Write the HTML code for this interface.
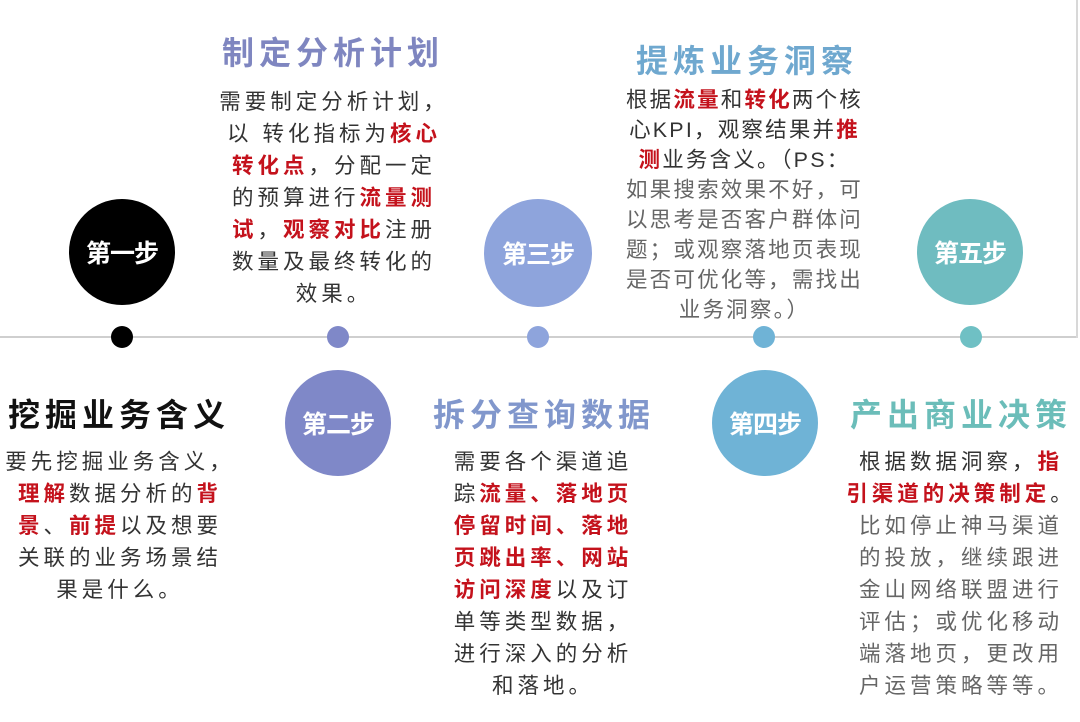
<!DOCTYPE html>
<html><head><meta charset="utf-8"><style>
html,body{margin:0;padding:0;background:#fff;}
body{width:1080px;height:722px;position:relative;overflow:hidden;font-family:"Liberation Sans","Noto Sans CJK SC",sans-serif;}
.a{position:absolute;}
.c{position:absolute;border-radius:50%;color:#fff;font-weight:bold;font-size:25px;display:flex;align-items:center;justify-content:center;letter-spacing:-1px;}
.d{position:absolute;width:22px;height:22px;border-radius:50%;}
.t{position:absolute;font-weight:bold;font-size:32px;letter-spacing:5px;white-space:nowrap;}
.b{position:absolute;font-size:21.5px;letter-spacing:4px;color:#333;text-align:center;white-space:nowrap;}
.b div{height:32px;line-height:32px;}
.r{color:#c4121c;font-weight:bold;}
.g{color:#666;}
</style></head><body>
<div class="a" style="left:0;top:336px;width:1078px;height:2px;background:#cfcfcf"></div>
<div class="a" style="left:1076px;top:0;width:2px;height:338px;background:#d8d8d8"></div>

<div class="d" style="left:111px;top:326px;background:#000"></div>
<div class="d" style="left:327px;top:326px;background:#7f88c8"></div>
<div class="d" style="left:527px;top:326px;background:#8ea4dc"></div>
<div class="d" style="left:753px;top:326px;background:#6fb3d6"></div>
<div class="d" style="left:960px;top:326px;background:#6fc0c4"></div>

<div class="c" style="left:69px;top:199px;width:106px;height:106px;background:#000">第一步</div>
<div class="c" style="left:484px;top:199px;width:108px;height:108px;background:#8ea4dc">第三步</div>
<div class="c" style="left:917px;top:199px;width:106px;height:106px;background:#6fbcc0">第五步</div>
<div class="c" style="left:285px;top:370px;width:106px;height:106px;background:#7f88c8">第二步</div>
<div class="c" style="left:712px;top:370px;width:106px;height:106px;background:#6fb3d6">第四步</div>

<div class="t" style="left:222px;top:28px;color:#7f86c0">制定分析计划</div>
<div class="t" style="left:636px;top:36px;color:#6fa8cf">提炼业务洞察</div>
<div class="t" style="left:8px;top:390px;color:#111">挖掘业务含义</div>
<div class="t" style="left:433px;top:390px;color:#8197cc">拆分查询数据</div>
<div class="t" style="left:850px;top:390px;color:#6bbdb9">产出商业决策</div>

<div class="b" style="left:210px;top:86px;width:248px">
<div>需要制定分析计划，</div>
<div>以 转化指标为<span class="r">核心</span></div>
<div><span class="r">转化点</span>，分配一定</div>
<div>的预算进行<span class="r">流量测</span></div>
<div><span class="r">试</span>，<span class="r">观察对比</span>注册</div>
<div>数量及最终转化的</div>
<div>效果。</div>
</div>

<div class="b" style="left:622px;top:85px;width:245px;letter-spacing:2.2px">
<div style="height:30px;line-height:30px">根据<span class="r">流量</span>和<span class="r">转化</span>两个核</div>
<div style="height:30px;line-height:30px">心KPI，观察结果并<span class="r">推</span></div>
<div style="height:30px;line-height:30px"><span class="r">测</span>业务含义。（PS：</div>
<div class="g" style="height:30px;line-height:30px">如果搜索效果不好，可</div>
<div class="g" style="height:30px;line-height:30px">以思考是否客户群体问</div>
<div class="g" style="height:30px;line-height:30px">题；或观察落地页表现</div>
<div class="g" style="height:30px;line-height:30px">是否可优化等，需找出</div>
<div class="g" style="height:30px;line-height:30px">业务洞察。）</div>
</div>

<div class="b" style="left:0px;top:446px;width:240px">
<div>要先挖掘业务含义，</div>
<div><span class="r">理解</span>数据分析的<span class="r">背</span></div>
<div><span class="r">景</span>、<span class="r">前提</span>以及想要</div>
<div>关联的业务场景结</div>
<div>果是什么。</div>
</div>

<div class="b" style="left:430px;top:446px;width:226px">
<div>需要各个渠道追</div>
<div>踪<span class="r">流量、落地页</span></div>
<div><span class="r">停留时间、落地</span></div>
<div><span class="r">页跳出率、网站</span></div>
<div><span class="r">访问深度</span>以及订</div>
<div>单等类型数据，</div>
<div>进行深入的分析</div>
<div>和落地。</div>
</div>

<div class="b" style="left:845px;top:446px;width:232px">
<div>根据数据洞察，<span class="r">指</span></div>
<div><span class="r">引渠道的决策制定</span>。</div>
<div class="g">比如停止神马渠道</div>
<div class="g">的投放，继续跟进</div>
<div class="g">金山网络联盟进行</div>
<div class="g">评估；或优化移动</div>
<div class="g">端落地页，更改用</div>
<div class="g">户运营策略等等。</div>
</div>
</body></html>
